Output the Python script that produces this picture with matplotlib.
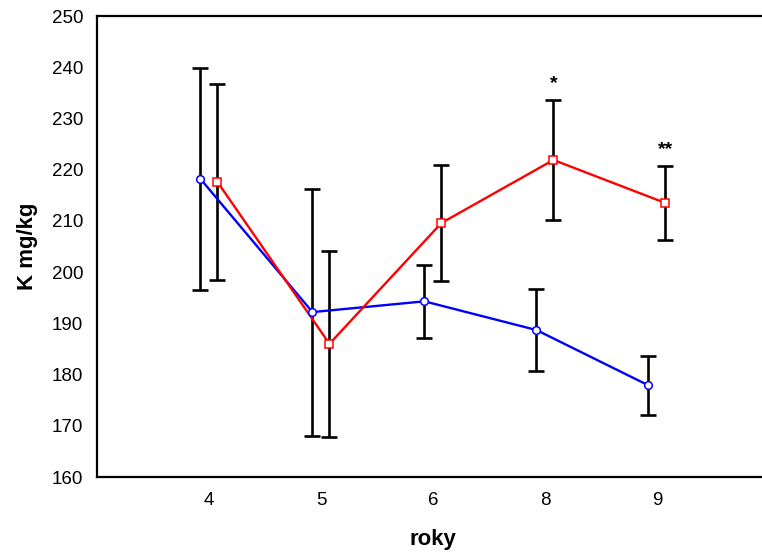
import numpy as np
import matplotlib
matplotlib.use('Agg')
import matplotlib.pyplot as plt

plt.rcParams['font.family'] = ['Liberation Sans', 'DejaVu Sans']

# data
roky = ['4', '5', '6', '8', '9']
modra_prumer = [218.2, 192.2, 194.3, 188.7, 177.9]
modra_chyba = [21.7, 24.1, 7.1, 8.0, 5.8]
cervena_prumer = [217.6, 186.0, 209.6, 221.9, 213.5]
cervena_chyba = [19.2, 18.1, 11.4, 11.7, 7.3]
hvezdicky = ['', '', '', '*', '**']

x = np.arange(len(roky))
posun = 0.076

fig = plt.figure(figsize=(7.62, 5.53), dpi=100)
ax = fig.add_axes([0.1273, 0.1374, 1.009 - 0.1273, 0.971 - 0.1374])

for xs, prumer, chyba, barva, znacka in [
        (x - posun, modra_prumer, modra_chyba, 'blue', 'o'),
        (x + posun, cervena_prumer, cervena_chyba, 'red', 's')]:
    ax.errorbar(xs, prumer, yerr=chyba, fmt='none', ecolor='black',
                elinewidth=1.9, capsize=5.5, capthick=1.9, zorder=2)
    ax.plot(xs, prumer, color=barva, lw=1.7, zorder=3)
    ax.plot(xs, prumer, linestyle='none', marker=znacka, markersize=5.5,
            markerfacecolor='white', markeredgecolor=barva,
            markeredgewidth=1.1, zorder=4)

for xi, prumer, chyba, text in zip(x + posun, cervena_prumer, cervena_chyba, hvezdicky):
    if text:
        ax.text(xi, prumer + chyba + 1.5, text, ha='center', va='bottom',
                fontsize=14, fontweight='bold')

ax.set_xlim(-1, 5)
ax.set_ylim(160, 250)
ax.set_xticks(x)
ax.set_xticklabels(roky)
ax.set_yticks(np.arange(160, 251, 10))
ax.tick_params(length=0, labelsize=13.5, pad=10)
ax.tick_params(axis='x', pad=11)
for s in ax.spines.values():
    s.set_linewidth(1.6)

ax.set_xlabel('roky', fontsize=16, fontweight='bold', labelpad=14)
ax.set_ylabel('K mg/kg', fontsize=16, fontweight='bold', labelpad=10)

fig.savefig('out.png', dpi=100)
